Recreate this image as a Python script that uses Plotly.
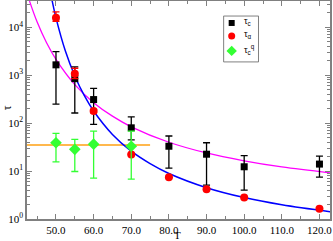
import plotly.graph_objects as go

# data
T_c = [50, 55, 60, 70, 80, 90, 100, 120]
tau_c = [1650, 850, 311, 80, 33, 22.5, 12.3, 14]
tau_c_hi = [3100, 1490, 530, 135, 54, 39, 21, 20.6]
tau_c_lo = [250, 163, 94, 45, 11.5, 5.1, 4.0, 7.5]

T_a = [50, 55, 60, 70, 80, 90, 100, 120]
tau_a = [15800, 1080, 180, 22.3, 7.4, 4.2, 2.8, 1.64]
tau_a_hi = [21000, 1400, 195, 23, 7.6, 4.3, 2.85, 1.68]
tau_a_lo = [13400, 850, 165, 21.5, 7.2, 4.1, 2.75, 1.6]

T_q = [50, 55, 60, 70]
tau_q = [39, 28.5, 36.5, 33]
tau_q_hi = [61, 46, 68, 68]
tau_q_lo = [15.6, 9.8, 7.1, 6.8]

# fit curves, points
T_blue = [48.8, 49, 50, 52.5, 55, 57.5, 60, 65, 70, 75, 80, 90, 100, 110, 122.8]
tau_blue = [41800, 35200, 15800, 3200, 966, 379, 180, 58.3, 26, 14.3, 8.9, 4.5, 2.8, 1.98, 1.42]
T_mag = [42.3, 43, 45, 47.5, 50, 55, 60, 65, 70, 80, 90, 100, 110, 122.8]
tau_mag = [52000, 34900, 12900, 4760, 2140, 637, 268, 140, 84, 40, 23.9, 16.4, 12.2, 9.2]
T_orange = [42.3, 75]
tau_orange = [35, 35]

y_ticks = [1, 10, 100, 1000, 10000]
y_ticktext = ["10<sup>0</sup>", "10<sup>1</sup>", "10<sup>2</sup>", "10<sup>3</sup>", "10<sup>4</sup>"]
legend_names = ["τ<sub>c</sub>", "τ<sub>α</sub>", "τ<sub>c</sub><sup>q</sup>"]


def err(v, hi, lo):
    return dict(type="data", symmetric=False,
                array=[h - x for x, h in zip(v, hi)],
                arrayminus=[x - l for x, l in zip(v, lo)])


fig = go.Figure()
fig.add_trace(go.Scatter(x=T_orange, y=tau_orange, mode="lines",
                         line=dict(color="#ffb84d", width=2)))
fig.add_trace(go.Scatter(x=T_mag, y=tau_mag, mode="lines", line_shape="spline",
                         line=dict(color="#ff00ff", width=1.3)))
fig.add_trace(go.Scatter(x=T_blue, y=tau_blue, mode="lines", line_shape="spline",
                         line=dict(color="#0000ff", width=1.5)))

styles = [("square", 7, "black"), ("circle", 8, "red"), ("diamond", 9, "#33ff33")]
series = [(T_c, tau_c, tau_c_hi, tau_c_lo), (T_a, tau_a, tau_a_hi, tau_a_lo),
          (T_q, tau_q, tau_q_hi, tau_q_lo)]
for (sym, sz, col), (xs, ys, hi, lo), nm in zip(styles, series, legend_names):
    e = err(ys, hi, lo)
    e.update(color=col, thickness=1.3, width=3.5)
    fig.add_trace(go.Scatter(x=xs, y=ys, mode="markers", name=nm,
                             marker=dict(symbol=sym, size=sz, color=col), error_y=e))

# hand-built legend (frame, symbols and labels) in an overlay frame 0..1
axis_col = "#808080"
leg_x0, leg_x1, leg_y0, leg_y1 = 0.649, 0.764, 0.7206, 0.931
leg_w_px, leg_h_px = 35, 46
leg_rows = [0.8992, 0.8397, 0.7710]
leg_sym_x = 0.6755
leg_txt_x = 0.711
xm, ym = (leg_x0 + leg_x1) / 2, (leg_y0 + leg_y1) / 2
# frame edges drawn as line markers (line-ew / line-ns length = 1.4 * size)
fig.add_trace(go.Scatter(x=[xm, xm], y=[leg_y0, leg_y1], xaxis="x2", yaxis="y2",
                         mode="markers", cliponaxis=False,
                         marker=dict(symbol="line-ew", size=leg_w_px / 1.4,
                                     line=dict(color=axis_col, width=1))))
fig.add_trace(go.Scatter(x=[leg_x0, leg_x1], y=[ym, ym], xaxis="x2", yaxis="y2",
                         mode="markers", cliponaxis=False,
                         marker=dict(symbol="line-ns", size=leg_h_px / 1.4,
                                     line=dict(color=axis_col, width=1))))
for (sym, sz, col), yy in zip(styles, leg_rows):
    fig.add_trace(go.Scatter(x=[leg_sym_x], y=[yy], xaxis="x2", yaxis="y2", mode="markers",
                             marker=dict(symbol=sym, size=sz - 1, color=col),
                             cliponaxis=False))

annots = [
    dict(text="T", xref="paper", yref="paper", x=0.4975, y=-0.0746,
         xanchor="center", yanchor="middle", showarrow=False, font=dict(size=11)),
    dict(text="τ", xref="paper", yref="paper", x=-0.068, y=0.51,
         xanchor="center", yanchor="middle", showarrow=False, textangle=-90,
         font=dict(size=12)),
]
for nm, yy in zip(legend_names, leg_rows):
    annots.append(dict(text=nm, xref="paper", yref="paper", x=leg_txt_x, y=yy + 0.008,
                       xanchor="left", yanchor="middle", showarrow=False,
                       font=dict(family="Liberation Sans", size=9)))

fig.update_layout(
    width=333, height=241,
    margin=dict(l=27, r=2.5, t=1, b=21.7, autoexpand=False),
    paper_bgcolor="white", plot_bgcolor="white",
    font=dict(family="Liberation Serif", size=11, color="black"),
    showlegend=False,
    xaxis=dict(range=[42.3, 122.8], tick0=0, dtick=10, tickformat=".1f",
               ticks="inside", ticklen=5, tickcolor=axis_col, automargin=False,
               showline=True, linecolor=axis_col, linewidth=1.5, mirror="allticks",
               showgrid=False, zeroline=False,
               minor=dict(dtick=5, tick0=0, ticks="inside", ticklen=3, tickcolor=axis_col)),
    yaxis=dict(type="log", range=[0, 4.55], tickmode="array", tickvals=y_ticks,
               ticktext=y_ticktext, automargin=False,
               ticks="inside", ticklen=5, tickcolor=axis_col,
               showline=True, linecolor=axis_col, linewidth=1.5, mirror="allticks",
               showgrid=False, zeroline=False,
               minor=dict(dtick="D1", ticks="inside", ticklen=3, tickcolor=axis_col)),
    xaxis2=dict(overlaying="x", range=[0, 1], visible=False, fixedrange=True),
    yaxis2=dict(overlaying="y", range=[0, 1], visible=False, fixedrange=True),
    annotations=annots,
)

fig.write_html("out.html", config={"displayModeBar": False},
               post_script="document.body.style.margin='0px';")
